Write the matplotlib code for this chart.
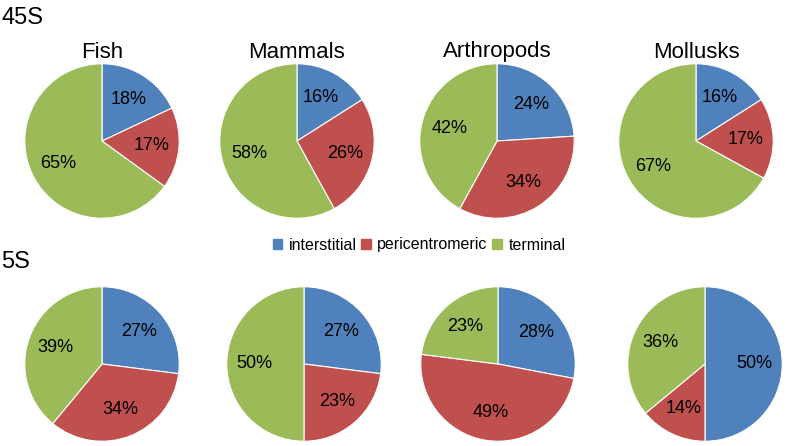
import matplotlib.pyplot as plt

groups = ['Fish', 'Mammals', 'Arthropods', 'Mollusks']
categories = ['interstitial', 'pericentromeric', 'terminal']
colors = ['#4F81BD', '#C0504D', '#9BBB59']

vals_45s = [[18, 17, 65], [16, 26, 58], [24, 34, 42], [16, 17, 67]]
vals_5s = [[27, 34, 39], [27, 23, 50], [28, 49, 23], [50, 14, 36]]

W, H = 787, 446
fig = plt.figure(figsize=(W / 100, H / 100), dpi=100)
plt.rcParams['font.family'] = ['Liberation Sans', 'DejaVu Sans']

r = 78
top_x = [102, 297, 497, 696]
bot_x = [102, 304, 498, 705]
top_y = 141
bot_y = 364


def draw_pie(cx, cy, vals, title=None):
    ax = fig.add_axes([(cx - r) / W, 1 - (cy + r) / H, 2 * r / W, 2 * r / H])
    ax.pie(vals, colors=colors, startangle=90, counterclock=False,
           autopct='%d%%', pctdistance=0.64,
           wedgeprops=dict(edgecolor='white', linewidth=0.8),
           textprops=dict(fontsize=13, color='black'))
    ax.set_aspect('equal')
    ax.set_xlim(-1.01, 1.01)
    ax.set_ylim(-1.01, 1.01)
    if title:
        fig.text(cx / W, 1 - 52 / H, title, ha='center', va='center', fontsize=16)
    return ax


for i, g in enumerate(groups):
    draw_pie(top_x[i], top_y, vals_45s[i], g)
    draw_pie(bot_x[i], bot_y, vals_5s[i])

fig.text(1 / W, 1 - 18 / H, '45S', ha='left', va='center', fontsize=17)
fig.text(1 / W, 1 - 262 / H, '5S', ha='left', va='center', fontsize=17)

handles = [plt.Rectangle((0, 0), 1, 1, color=c) for c in colors]
fig.legend(handles, categories, loc='center', bbox_to_anchor=(419 / W, 1 - 245 / H),
           ncol=3, frameon=False, fontsize=11.5, handlelength=0.6, handleheight=0.6,
           handletextpad=0.4, columnspacing=0.3, borderpad=0)

fig.savefig('out.png', dpi=100)
